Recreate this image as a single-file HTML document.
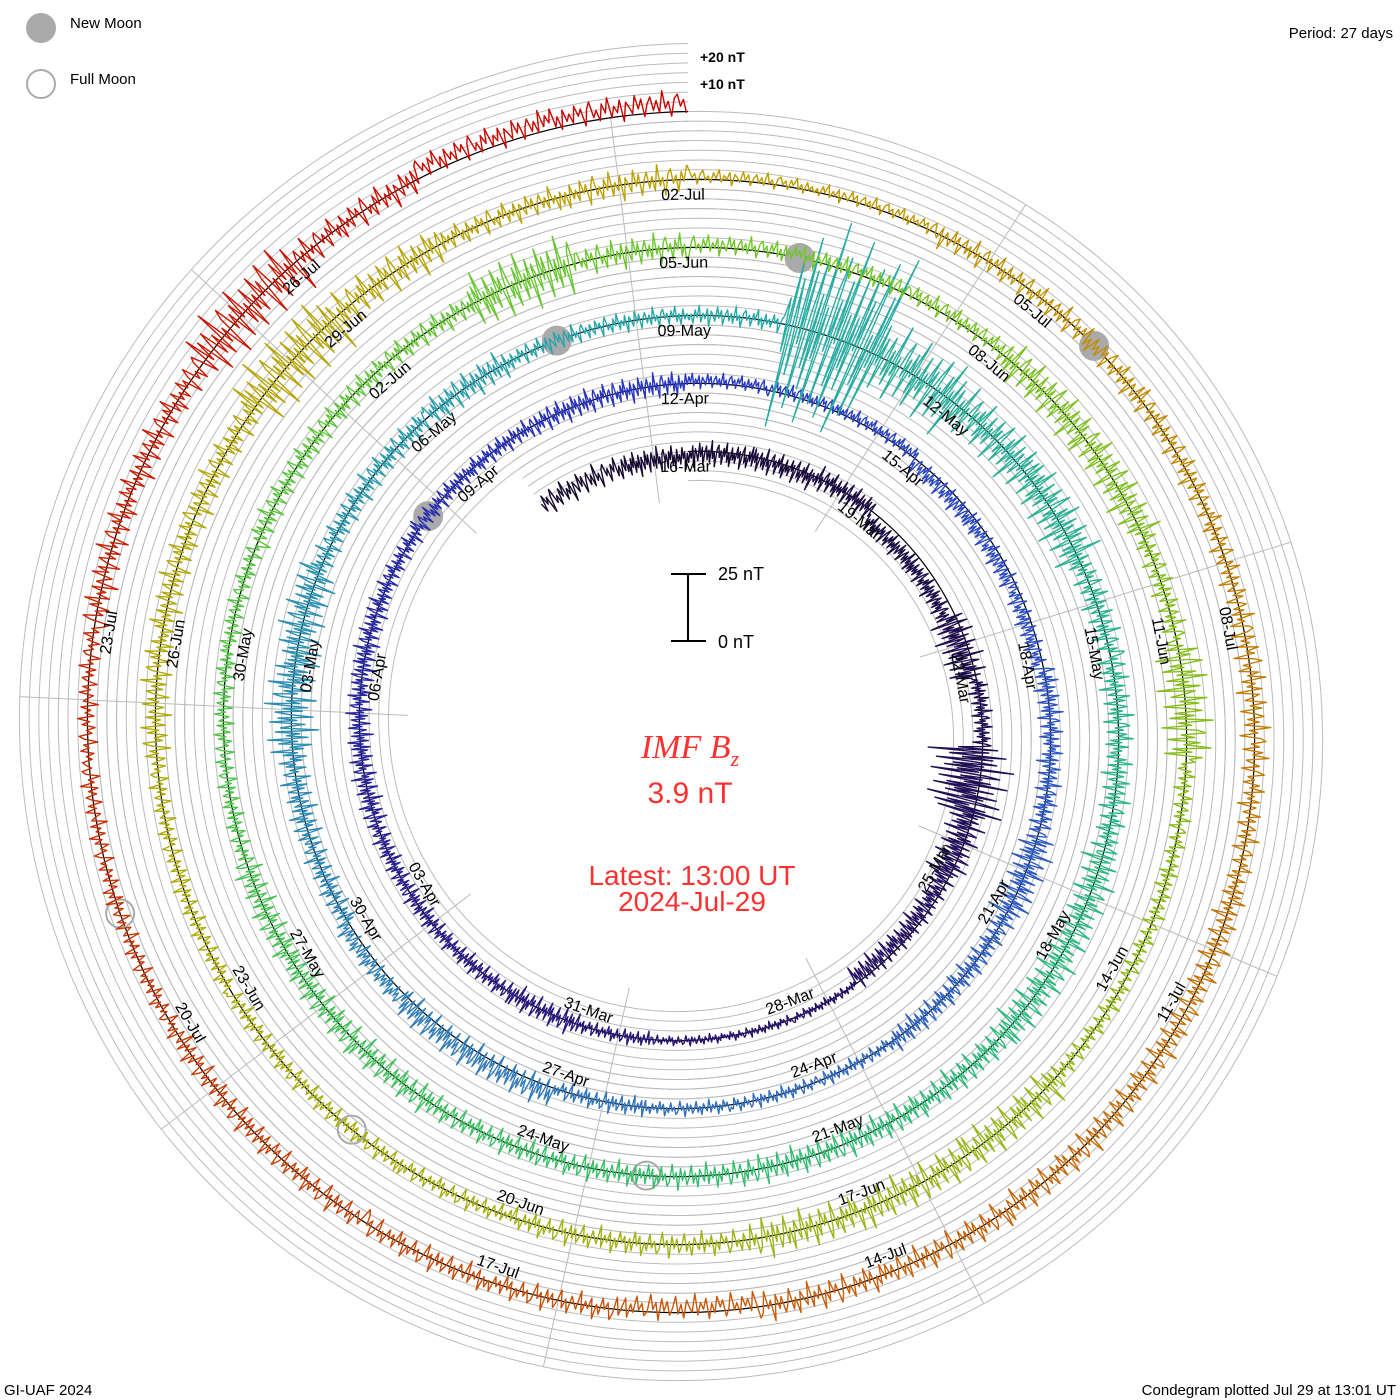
<!DOCTYPE html>
<html><head><meta charset="utf-8"><style>
html,body{margin:0;padding:0;background:#fff;}
svg{display:block;font-family:"Liberation Sans",sans-serif;}
</style></head><body>
<svg id="chart" width="1400" height="1400" viewBox="0 0 1400 1400" xmlns="http://www.w3.org/2000/svg">
<rect width="1400" height="1400" fill="#fff"/>
<g id="grid"></g>
<g id="spokes"></g>
<g id="base"></g>
<g id="moons"></g>
<g id="data"></g>
<g id="labels"></g>
<g>
 <circle cx="41" cy="28" r="15" fill="#aaa"/>
 <text x="70" y="28" font-size="15">New Moon</text>
 <circle cx="41" cy="84" r="14" fill="none" stroke="#aaa" stroke-width="2"/>
 <text x="70" y="84" font-size="15">Full Moon</text>
</g>
<text x="1393" y="38" font-size="15" text-anchor="end">Period: 27 days</text>
<text x="700" y="62" font-size="14" font-weight="bold">+20 nT</text>
<text x="700" y="89" font-size="14" font-weight="bold">+10 nT</text>
<g stroke="#000" stroke-width="2">
 <line x1="688" y1="574" x2="688" y2="641"/><line x1="671" y1="574" x2="706" y2="574"/><line x1="671" y1="641" x2="706" y2="641"/>
</g>
<text x="718" y="580" font-size="18">25 nT</text>
<text x="718" y="648" font-size="18">0 nT</text>
<text x="690" y="758" font-size="34" fill="#ff3030" text-anchor="middle" font-family="Liberation Serif, serif" font-style="italic">IMF B<tspan font-size="22" dy="8">z</tspan></text>
<text x="690" y="803" font-size="30" fill="#ff3030" text-anchor="middle">3.9 nT</text>
<text x="692" y="885" font-size="28" fill="#ff3030" text-anchor="middle">Latest: 13:00 UT</text>
<text x="692" y="911" font-size="28" fill="#ff3030" text-anchor="middle">2024-Jul-29</text>
<text x="4" y="1395" font-size="15">GI-UAF 2024</text>
<text x="1396" y="1395" font-size="15" text-anchor="end">Condegram plotted Jul 29 at 13:01 UT</text>
</svg>
<script>
// day index starts at -2 (days since 16-Mar 13:00 UT); one value per day
const firstDay = -2;
const dayAmp = [5,5,5,5,5, 4,4, 8, 4, 16,8, 5,5, 2,2,2,3,5, 4,4,4, 5,5,5, 4,4,4,5,5,
 3,3,3, 4,4,4, 5,5,8, 5,5, 3,3,3, 4,6,6,4, 5,6, 10,9, 5,5, 6,4,4,
 4, 40,15, 10,10, 6,6,6, 8,8, 6,6,6, 5,5,5, 6,6,6, 4,4,4, 5,5,5, 12,6,
 4,4,4, 8,8, 5, 10, 4,4,4, 8,8,8, 5,5, 4,4,4, 4,4, 6,6, 6,13, 8,5, 6,
 3,3, 5,5,5, 5,6,5, 6,6,6, 6,6, 5,5, 5,5,5, 4,4, 4, 6,6, 12,6, 5,5];
const dayMean = [-2,-2,-1,-1,0, -4,-4, -3, 0, -4,-2, -2,-2, 0,0,0,0,0, 0,0,0, 0,0,0, 0,0,0,0,0,
 1,1,1, -2,-2,-2, 0,0,0, 0,0, 0,0,0, 0,2,2,2, 0,0, 0,0, 0,0, 0,0,0,
 0, 2,0, 0,0, 0,0,0, 0,0, 0,0,0, 0,0,0, 0,0,0, 0,0,0, 0,0,0, 0,0,
 1,1,1, 0,0, 0, 0, 0,0,0, 0,0,0, 0,0, 0,0,0, 0,0, 0,0, 0,0, 0,0, 0,
 1,1, 0,0,0, 0,0,0, 0,0,0, 0,0, -2,0, 0,0,0, 0,0, 0, 0,0, 0,0, 3,3];
const newMoonDays = [82.0, 111.5, 52.6, 23.2];
const fullMoonDays = [126.9, 97.5, 67.9];
const wiggle = [0.2,-0.5,0.7,-0.1,0.4,-0.9,0.3,0.8,-0.4,0.1,-0.7,0.5,
 -0.2,0.9,-0.6,0.2,-0.3,0.6,-1,0.4,0.0,-0.5,0.8,-0.2,
 0.5,-0.8,0.1,0.6,-0.4,0.3,-0.6,1,-0.3,0.2,-0.9,0.4,
 0.7,-0.2,0.3,-0.7,0.5,-0.1,0.9,-0.5,0.2,-0.8,0.6,-0.3];

const NS='http://www.w3.org/2000/svg';
const CX=688, CY=729, R0=277.5, TURN=68, PERIOD=27, PXNT=68/25, GRIDSTEP=68/7;
const T0=-2.5, T1=135;
function rad(t){return R0+TURN*t/PERIOD;}
function ang(t){return 2*Math.PI*t/PERIOD;}
function xy(t,r){const a=ang(t);return [CX+r*Math.sin(a),CY-r*Math.cos(a)];}
const stops=[[-3,[20,8,40]],[13,[40,18,110]],[27,[40,55,195]],[40,[50,110,190]],[54,[40,170,170]],[67,[50,190,110]],[81,[110,200,40]],[94,[160,180,20]],[108,[190,160,0]],[121,[200,90,10]],[135,[200,0,0]]];
function col(t){for(let i=0;i<stops.length-1;i++){const a=stops[i],b=stops[i+1];if(t<=b[0]){const f=Math.max(0,(t-a[0])/(b[0]-a[0]));const c=a[1].map((v,k)=>Math.round(v+(b[1][k]-v)*f));return 'rgb('+c.join(',')+')';}}return 'rgb(200,0,0)';}
function spiralPath(off,ta,tb){let d='';for(let t=ta;t<=tb+1e-9;t+=0.1){const p=xy(t,rad(t)+off);d+=(d?'L':'M')+p[0].toFixed(1)+' '+p[1].toFixed(1);}return d;}

const grid=document.getElementById('grid');
for(let j=-3;j<=7;j++){
  const p=document.createElementNS(NS,'path');
  
  
  p.setAttribute('d',spiralPath(j*GRIDSTEP,j<0?0:T0,T1));
  p.setAttribute('fill','none');p.setAttribute('stroke','#bbb');p.setAttribute('stroke-width','1');
  grid.appendChild(p);
}
const spokes=document.getElementById('spokes');
for(let m=0;m<9;m++){
  const t=-13/24+3*m;
  const a=xy(t,rad(t)-5*GRIDSTEP), b=xy(t+4*PERIOD,rad(t+4*PERIOD)+7*GRIDSTEP);
  const l=document.createElementNS(NS,'line');
  
  
  l.setAttribute('x1',a[0]);l.setAttribute('y1',a[1]);l.setAttribute('x2',b[0]);l.setAttribute('y2',b[1]);
  l.setAttribute('stroke','#bbb');l.setAttribute('stroke-width','1');
  spokes.appendChild(l);
}
const base=document.createElementNS(NS,'path');


base.setAttribute('d',spiralPath(0,0,T1));base.setAttribute('fill','none');base.setAttribute('stroke','#000');base.setAttribute('stroke-width','1.2');
document.getElementById('base').appendChild(base);

const moons=document.getElementById('moons');
newMoonDays.forEach(t=>{const p=xy(t,rad(t));const c=document.createElementNS(NS,'circle');
 
 
 c.setAttribute('cx',p[0]);c.setAttribute('cy',p[1]);c.setAttribute('r',15);c.setAttribute('fill','#aaa');moons.appendChild(c);});
fullMoonDays.forEach(t=>{const p=xy(t,rad(t));const c=document.createElementNS(NS,'circle');
 
 
 c.setAttribute('cx',p[0]);c.setAttribute('cy',p[1]);c.setAttribute('r',14);c.setAttribute('fill','none');c.setAttribute('stroke','#aaa');c.setAttribute('stroke-width','2');moons.appendChild(c);});

const data=document.getElementById('data');
let prev=null;
for(let i=0;i<dayAmp.length;i++){
  const amp=dayAmp[i], mean=dayMean[i]||0;
  let pts=prev?[prev]:[];
  const start=(i===0)?T0:firstDay+i, end=Math.min(firstDay+i+1,T1);
  if(end<=start) continue;
  const n=wiggle.length;
  for(let k=0;k<n;k++){
    const t=start+(end-start)*(k+0.5)/n;
    const v=mean+amp*wiggle[(k+i*7)%n];
    const p=xy(t,rad(t)+v*PXNT);pts.push(p[0].toFixed(1)+','+p[1].toFixed(1));
  }
  prev=pts[pts.length-1];
  const pl=document.createElementNS(NS,'polyline');
  
  
  pl.setAttribute('points',pts.join(' '));pl.setAttribute('fill','none');
  pl.setAttribute('stroke',col((start+end)/2));pl.setAttribute('stroke-width','1.4');pl.setAttribute('stroke-linejoin','round');
  data.appendChild(pl);
}

const labels=document.getElementById('labels');
const MON=['Jan','Feb','Mar','Apr','May','Jun','Jul','Aug','Sep','Oct','Nov','Dec'];
for(let m=0;m<45;m++){
  const dt=new Date(Date.UTC(2024,2,16+3*m));
  const s=String(dt.getUTCDate()).padStart(2,'0')+'-'+MON[dt.getUTCMonth()];
  const t=3*m-0.04;
  const p=xy(t,rad(t)-16);
  let deg=(360*t/PERIOD)%360; if(deg>180)deg-=360;
  let rot=deg; if(Math.abs(deg)>90) rot=deg+180;
  const tx=document.createElementNS(NS,'text');
  
  
  tx.setAttribute('x',p[0].toFixed(1));tx.setAttribute('y',p[1].toFixed(1));
  tx.setAttribute('font-size','16');tx.setAttribute('text-anchor','middle');tx.setAttribute('dominant-baseline','middle');
  tx.setAttribute('transform','rotate('+rot.toFixed(1)+' '+p[0].toFixed(1)+' '+p[1].toFixed(1)+')');
  tx.textContent=s;labels.appendChild(tx);
}
</script>
</body></html>
